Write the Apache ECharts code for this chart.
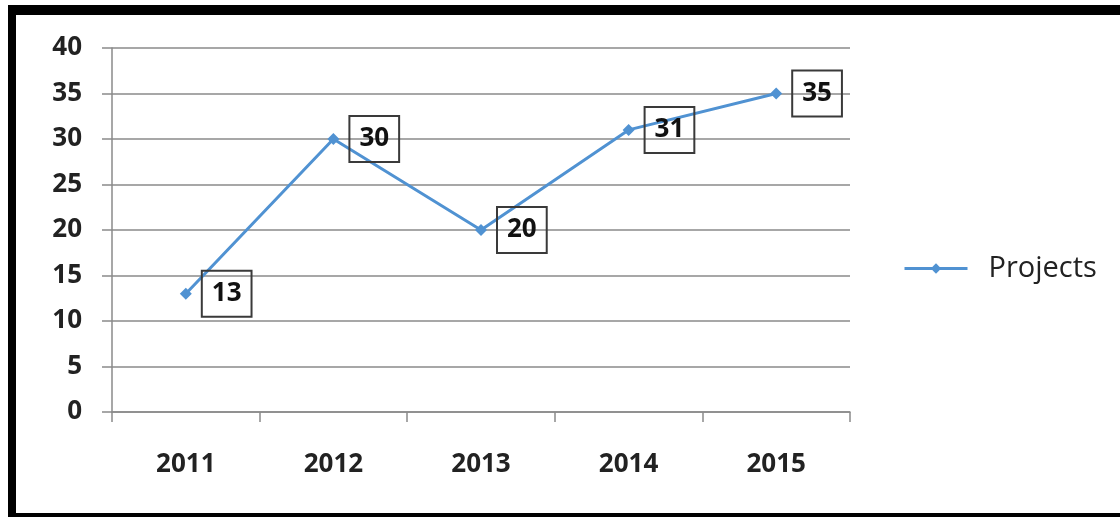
<!DOCTYPE html>
<html>
<head>
<meta charset="utf-8">
<script src="https://cdn.jsdelivr.net/npm/echarts@6/dist/echarts.min.js"></script>
<style>
html,body{margin:0;padding:0;background:#fff;}
#c{width:1120px;height:517px;}
</style>
</head>
<body>
<div id="c"></div>
<script>
var categories = ['2011', '2012', '2013', '2014', '2015'];
var projects = [13, 30, 20, 31, 35];
var seriesName = 'Projects';

var chart = echarts.init(document.getElementById('c'), null, {renderer: 'canvas'});
var axisGray = '#8a8a8a';
var lineBlue = '#5092d2';
var font = '"Open Sans", sans-serif';

chart.setOption({
  animation: false,
  backgroundColor: '#fff',
  graphic: [
    {type: 'rect', left: 8, top: 5, shape: {width: 1112, height: 10}, style: {fill: '#000'}},
    {type: 'rect', left: 8, top: 5, shape: {width: 8, height: 512}, style: {fill: '#000'}},
    {type: 'rect', left: 8, top: 513, shape: {width: 1112, height: 4}, style: {fill: '#000'}}
  ],
  grid: {left: 112, right: 270, top: 48, bottom: 105, containLabel: false},
  legend: {
    data: [seriesName],
    orient: 'vertical',
    left: 898,
    top: 249,
    itemWidth: 63,
    itemHeight: 13,
    itemGap: 10,
    lineStyle: {width: 3},
    textStyle: {fontFamily: font, fontSize: 29, color: '#222', padding: [0, 0, 0, 16]}
  },
  xAxis: {
    type: 'category',
    data: categories,
    boundaryGap: true,
    axisLine: {show: true, lineStyle: {color: axisGray, width: 1.5}},
    axisTick: {show: true, length: 10, lineStyle: {color: axisGray, width: 1.5}},
    axisLabel: {fontFamily: font, fontSize: 26, fontWeight: 'bold', color: '#222', margin: 40},
    splitLine: {show: false}
  },
  yAxis: {
    type: 'value',
    min: 0,
    max: 40,
    interval: 5,
    axisLine: {show: true, lineStyle: {color: axisGray, width: 1.5}},
    axisTick: {show: true, length: 10, lineStyle: {color: axisGray, width: 1.5}},
    axisLabel: {fontFamily: font, fontSize: 26, fontWeight: 'bold', color: '#222', margin: 30},
    splitLine: {show: true, lineStyle: {color: axisGray, width: 1.5}}
  },
  series: [{
    name: seriesName,
    type: 'line',
    data: projects,
    symbol: 'diamond',
    symbolSize: 12,
    lineStyle: {color: lineBlue, width: 3},
    itemStyle: {color: lineBlue},
    label: {
      show: true,
      position: 'right',
      distance: 10,
      fontFamily: font,
      fontSize: 26,
      fontWeight: 'bold',
      color: '#111',
      borderColor: '#3a3a3a',
      borderWidth: 2,
      padding: [9, 10, 7, 10],
      lineHeight: 30
    }
  }]
});
</script>
</body>
</html>
